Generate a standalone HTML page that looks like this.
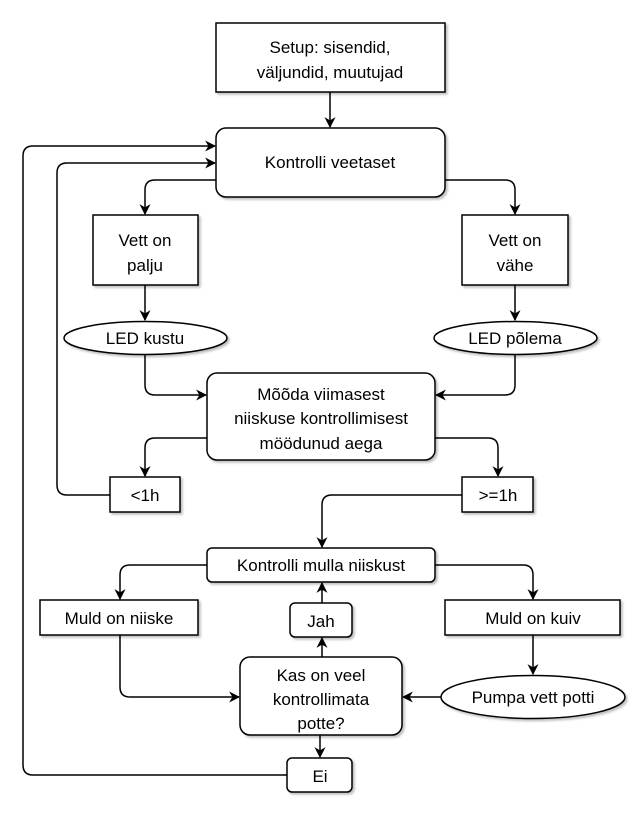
<!DOCTYPE html>
<html><head><meta charset="utf-8"><style>
html,body{margin:0;padding:0;background:#fff;}
svg{display:block;}
text{font-family:"Liberation Sans",sans-serif;font-size:17px;fill:#000;text-anchor:middle;}
</style></head><body>
<svg width="639" height="813" viewBox="0 0 639 813" xmlns="http://www.w3.org/2000/svg">
<defs>
<marker id="a" viewBox="0 0 10 10" refX="9" refY="5" markerWidth="11" markerHeight="11" orient="auto" markerUnits="userSpaceOnUse">
<path d="M0,0 L10,5 L0,10 L3,5 z" fill="#000"/></marker>
<filter id="s" x="-10%" y="-10%" width="130%" height="130%"><feDropShadow dx="2" dy="2" stdDeviation="1" flood-color="#000" flood-opacity="0.25"/></filter>
</defs>
<g fill="none" stroke="#000" stroke-width="1.5" marker-end="url(#a)">
<path d="M330 92 V127"/>
<path d="M216 180 H155 Q145 180 145 190 V214"/>
<path d="M445 180 H505 Q515 180 515 190 V214"/>
<path d="M145 285 V320"/>
<path d="M515 285 V320"/>
<path d="M145 354 V385 Q145 395 155 395 H206"/>
<path d="M515 354 V385 Q515 395 505 395 H436"/>
<path d="M207 438 H155 Q145 438 145 448 V476"/>
<path d="M435 438 H488 Q498 438 498 448 V476"/>
<path d="M110 495 H67 Q57 495 57 485 V173 Q57 163 67 163 H215"/>
<path d="M462 495 H332 Q322 495 322 505 V547"/>
<path d="M207 565 H130 Q120 565 120 575 V599"/>
<path d="M435 565 H523 Q533 565 533 575 V599"/>
<path d="M533 635 V674"/>
<path d="M120 635 V687 Q120 697 130 697 H239"/>
<path d="M441 697 H403"/>
<path d="M322 603 V583"/>
<path d="M322 657 V638"/>
<path d="M320 735 V757"/>
<path d="M287 775 H33 Q23 775 23 765 V156 Q23 146 33 146 H215"/>
</g>
<g fill="#fff" stroke="#000" stroke-width="1.5" filter="url(#s)">
<rect x="216" y="23" width="229" height="69"/>
<rect x="216" y="128" width="229" height="69" rx="10"/>
<rect x="93" y="215" width="105" height="70"/>
<rect x="462" y="215" width="106" height="70"/>
<ellipse cx="145.5" cy="338" rx="81.5" ry="16.5"/>
<ellipse cx="515.5" cy="338" rx="81.5" ry="16.5"/>
<rect x="207" y="373" width="228" height="87" rx="10"/>
<rect x="110" y="477" width="70" height="35"/>
<rect x="462" y="477" width="71" height="35"/>
<rect x="207" y="548" width="228" height="34" rx="5"/>
<rect x="40" y="600" width="158" height="35"/>
<rect x="445" y="600" width="175" height="35"/>
<rect x="290" y="603" width="62" height="34" rx="5"/>
<rect x="240" y="657" width="162" height="78" rx="10"/>
<ellipse cx="533" cy="697" rx="92" ry="21.5"/>
<rect x="287" y="758" width="65" height="34" rx="5"/>
</g>
<text x="330" y="53">Setup: sisendid,</text>
<text x="330" y="78">väljundid, muutujad</text>
<text x="330" y="168">Kontrolli veetaset</text>
<text x="145" y="246">Vett on</text>
<text x="145" y="271">palju</text>
<text x="515" y="246">Vett on</text>
<text x="515" y="271">vähe</text>
<text x="145" y="344">LED kustu</text>
<text x="515" y="344">LED põlema</text>
<text x="321" y="400">Mõõda viimasest</text>
<text x="321" y="424">niiskuse kontrollimisest</text>
<text x="321" y="449">möödunud aega</text>
<text x="145" y="501">&lt;1h</text>
<text x="498" y="501">&gt;=1h</text>
<text x="321" y="571">Kontrolli mulla niiskust</text>
<text x="119" y="624">Muld on niiske</text>
<text x="533" y="624">Muld on kuiv</text>
<text x="321" y="627">Jah</text>
<text x="321" y="681">Kas on veel</text>
<text x="321" y="705">kontrollimata</text>
<text x="321" y="729">potte?</text>
<text x="533" y="703">Pumpa vett potti</text>
<text x="320" y="782">Ei</text>
</svg>
</body></html>
